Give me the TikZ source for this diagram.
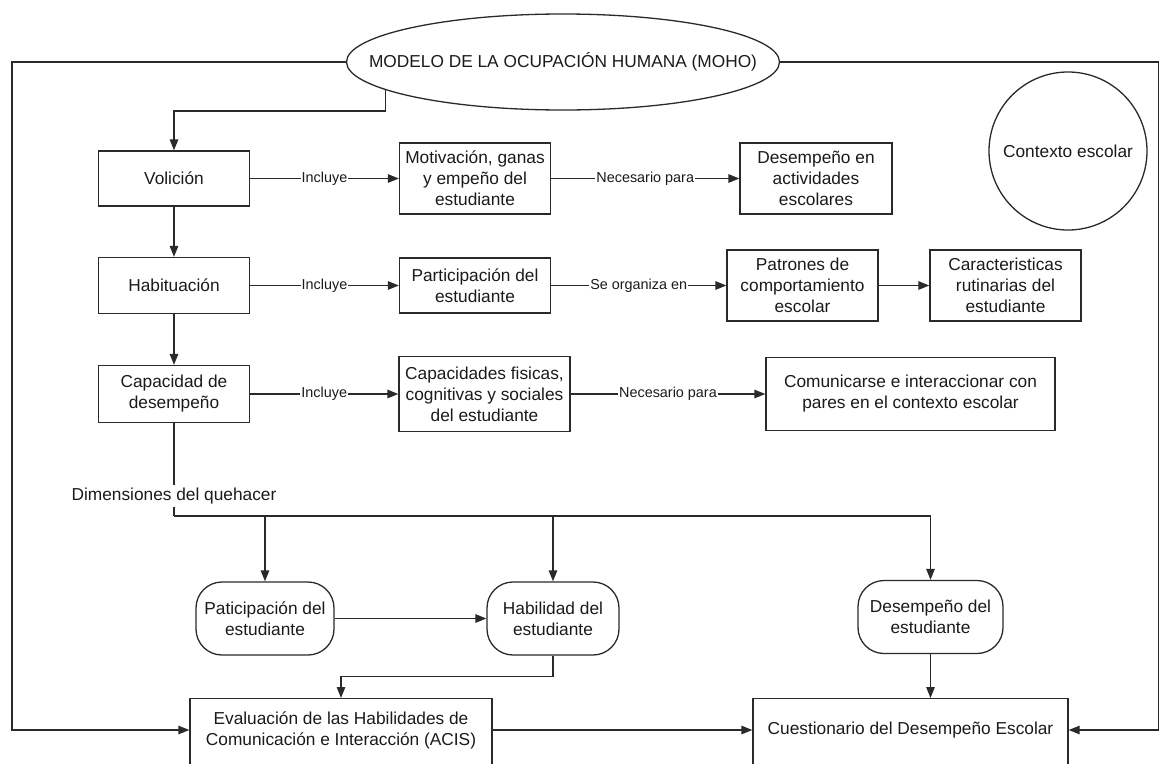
\documentclass[tikz,border=0pt]{standalone}
\usepackage{fontspec}
\setmainfont{Liberation Sans}
\usetikzlibrary{arrows.meta,shapes.geometric}
\definecolor{trazo}{HTML}{2A2A2A}
\definecolor{texto}{HTML}{1A1A1A}
\begin{document}
\begin{tikzpicture}[x=1pt, y=-1pt, line width=1.3pt, color=trazo,
  every node/.style={font=\fontsize{17.3}{21}\selectfont, text=texto, align=center, inner sep=2pt},
  caja/.style={draw, rectangle, minimum width=151pt, minimum height=55pt},
  ovalo/.style={draw, rectangle, rounded corners=26pt, minimum height=73pt},
  flecha/.style={-{Triangle[length=11pt,width=8.5pt]}},
  etiqueta/.style={fill=white, inner sep=1pt, font=\fontsize{14.4}{16}\selectfont}]
  \clip (0,0) rectangle (1159,763);

  % Modelo y contexto
  \node[draw, ellipse, minimum width=433pt, minimum height=96pt] (moho) at (563,62) {};
  \node (mohotxt) at (moho) {MODELO DE LA OCUPACIÓN HUMANA (MOHO)};
  \node[draw, circle, minimum size=158pt] (contexto) at (1068,151) {Contexto escolar};

  % Fila 1
  \node[caja] (volicion) at (174,178.5) {Volición};
  \node[caja, minimum height=71pt] (motiv) at (475,178.5) {Motivación, ganas\\y empeño del\\estudiante};
  \node[caja, minimum width=152pt, minimum height=71pt] (desact) at (816,178.5) {Desempeño en\\actividades\\escolares};

  \draw[flecha] (moho.189.4) -- (moho.189.4 |- 0,111) -| (volicion.north);
  \draw[flecha] (volicion) -- node[etiqueta]{Incluye} (motiv);
  \draw[flecha] (motiv) -- node[etiqueta]{Necesario para} (desact);

  % Fila 2
  \node[caja, minimum height=56pt] (habit) at (174,285.5) {Habituación};
  \node[caja] (partic) at (475,285.5) {Participación del\\estudiante};
  \node[caja, minimum height=71pt] (patron) at (802.5,285.5) {Patrones de\\comportamiento\\escolar};
  \node[caja, minimum height=71pt] (caract) at (1005.5,285.5) {Caracteristicas\\rutinarias del\\estudiante};

  \draw[flecha] (volicion) -- (habit);
  \draw[flecha] (habit) -- node[etiqueta]{Incluye} (partic);
  \draw[flecha] (partic) -- node[etiqueta]{Se organiza en} (patron);
  \draw[flecha] (patron) -- (caract);

  % Fila 3
  \node[caja, minimum height=57pt] (capac) at (174,394) {Capacidad de\\desempeño};
  \node[caja, minimum width=171pt, minimum height=75pt] (capfis) at (484.5,394) {Capacidades fisicas,\\cognitivas y sociales\\del estudiante};
  \node[caja, minimum width=289pt, minimum height=73pt] (comun) at (910.5,394) {Comunicarse e interaccionar con\\pares en el contexto escolar};

  \draw[flecha] (habit) -- (capac);
  \draw[flecha] (capac) -- node[etiqueta]{Incluye} (capfis);
  \draw[flecha] (capfis) -- node[etiqueta]{Necesario para} (comun);

  % Dimensiones del quehacer
  \node (dim) at (174,496) {Dimensiones del quehacer};
  \coordinate (bus) at (174,516);
  \node[ovalo, minimum width=138pt] (paticip) at (265,618.5) {Paticipación del\\estudiante};
  \node[ovalo, minimum width=132pt] (habil) at (553,618.5) {Habilidad del\\estudiante};
  \node[ovalo, minimum width=145pt] (desemp) at (930.5,617) {Desempeño del\\estudiante};

  \draw (capac) -- (dim);
  \draw (dim) -- (bus);
  \draw[flecha] (bus) -| (desemp.north);
  \draw[flecha] (bus -| paticip.north) -- (paticip.north);
  \draw[flecha] (bus -| habil.north) -- (habil.north);
  \draw[flecha] (paticip) -- (habil);

  % Evaluaciones
  \node[draw, minimum width=302pt, minimum height=110pt, anchor=north] (evalbox) at (341,698) {};
  \node (evaltxt) at (341,730) {Evaluación de las Habilidades de\\Comunicación e Interacción (ACIS)};
  \node[draw, minimum width=315pt, minimum height=110pt, anchor=north] (cuestbox) at (910.5,698) {};
  \node (cuesttxt) at (910.5,730) {Cuestionario del Desempeño Escolar};

  \draw[flecha] (habil.south) -- ++(0,21) -| (evalbox.north);
  \draw[flecha] (desemp.south) -- (desemp.south |- cuestbox.north);
  \draw[flecha] (moho.west) -- (12,62) |- (evaltxt -| evalbox.west);
  \draw[flecha] (moho.east) -- (1159,62) |- (cuesttxt -| cuestbox.east);
  \draw[flecha] (evaltxt -| evalbox.east) -- (cuesttxt -| cuestbox.west);
\end{tikzpicture}
\end{document}
